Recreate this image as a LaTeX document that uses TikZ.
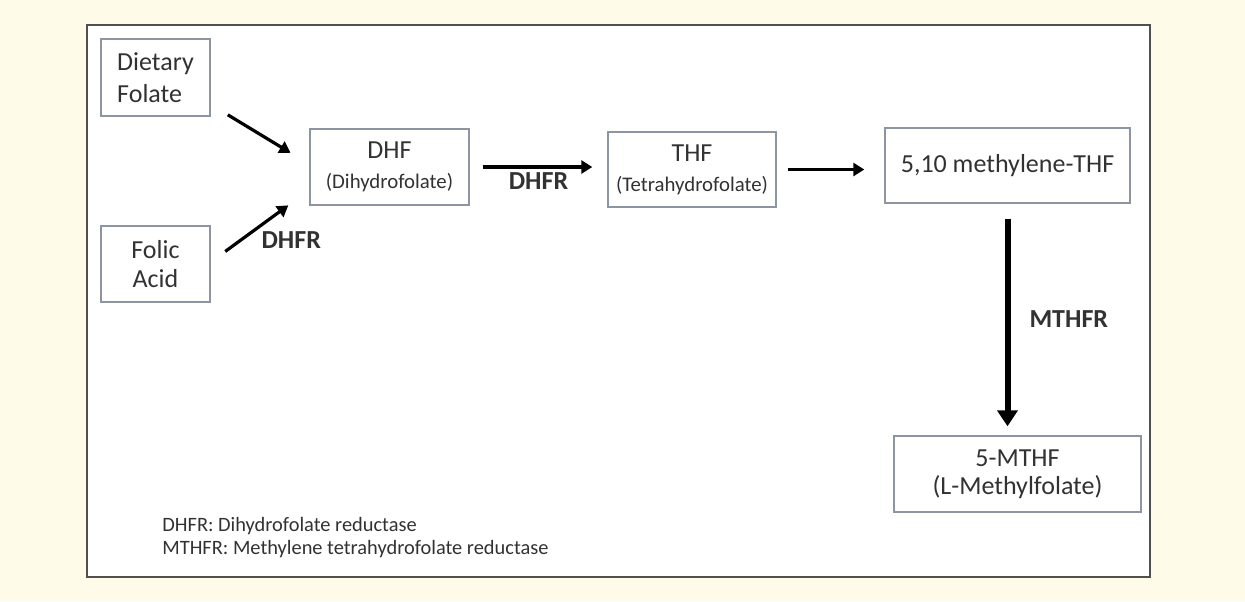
\documentclass[tikz,border=0pt]{standalone}
\usepackage{fontspec}
\setmainfont{Carlito}
\usetikzlibrary{arrows.meta,positioning}
\definecolor{bgcream}{RGB}{254,251,232}
\definecolor{boxline}{RGB}{140,150,162}
\definecolor{framegray}{RGB}{80,80,80}
\definecolor{txtgray}{RGB}{50,50,50}
\newcommand{\subname}[1]{{\fontsize{10.4}{12}\selectfont #1}}

\begin{document}
\begin{tikzpicture}[x=0.5pt,y=-0.5pt,>={Triangle[length=5.5pt,width=6.5pt]},
   box/.style={draw=boxline,line width=0.7pt,fill=white,text=txtgray,align=center,
      font=\fontsize{13}{16}\selectfont,inner sep=2pt},
   enz/.style={font=\bfseries\fontsize{13}{15}\selectfont,text=txtgray,inner sep=2pt},
   flow/.style={->,line width=1.6pt}]
   \fill[bgcream] (0,0) rectangle (1245,601);
   \useasboundingbox (0,0) rectangle (1245,601);
   \draw[framegray,line width=1pt,fill=white] (87,25) rectangle (1150,577);

   \node[box,align=left,minimum width=54.5pt,minimum height=38.5pt] (diet) at (155.5,77.5) {Dietary\\Folate};
   \node[box,font=\fontsize{13}{14.5}\selectfont,minimum width=54.5pt,minimum height=38pt] (folic) at (155.5,264) {Folic\\Acid};
   \node[box,minimum width=79.5pt,minimum height=38pt] (dhf) at (389.5,167) {DHF\\[-1pt]\subname{(Dihydrofolate)}};
   \node[box,minimum width=84pt,minimum height=37.5pt] (thf) at (692,169.5) {THF\\[-1pt]\subname{(Tetrahydrofolate)}};
   \node[box,minimum width=122.5pt,minimum height=37.5pt] (mth) at (1007.5,165.5) {5,10 methylene-THF};
   \node[box,font=\fontsize{13}{14}\selectfont,minimum width=123.5pt,minimum height=38pt] (five) at (1017.5,474) {5-MTHF\\(L-Methylfolate)};

   \path[flow]
    (diet.-26) edge[shorten <=10pt,shorten >=11pt] (dhf.178)
    (folic.2) edge[shorten <=9pt,shorten >=13pt]
       node[enz,pos=0.5,anchor=north west,xshift=-2pt] {DHFR} (dhf.196)
    (dhf.east) edge[shorten <=6.5pt,shorten >=7.5pt]
       node[enz,below] {DHFR} (dhf.east -| thf.west)
    (thf.east) edge[shorten <=5.5pt,shorten >=10pt] (thf.east -| mth.west);
   \path[->,line width=3pt,>={Triangle[length=8pt,width=10pt]}]
    (mth.south) edge[shorten <=7.5pt,shorten >=4.5pt]
       node[enz,right,xshift=7.5pt] {MTHFR} (mth.south |- five.north);

   \node[anchor=west,align=left,text=txtgray,inner sep=2pt,
      font=\fontsize{10.2}{11.5}\selectfont] (legend) at (158,538)
      {DHFR: Dihydrofolate reductase\\MTHFR: Methylene tetrahydrofolate reductase};
\end{tikzpicture}
\end{document}
